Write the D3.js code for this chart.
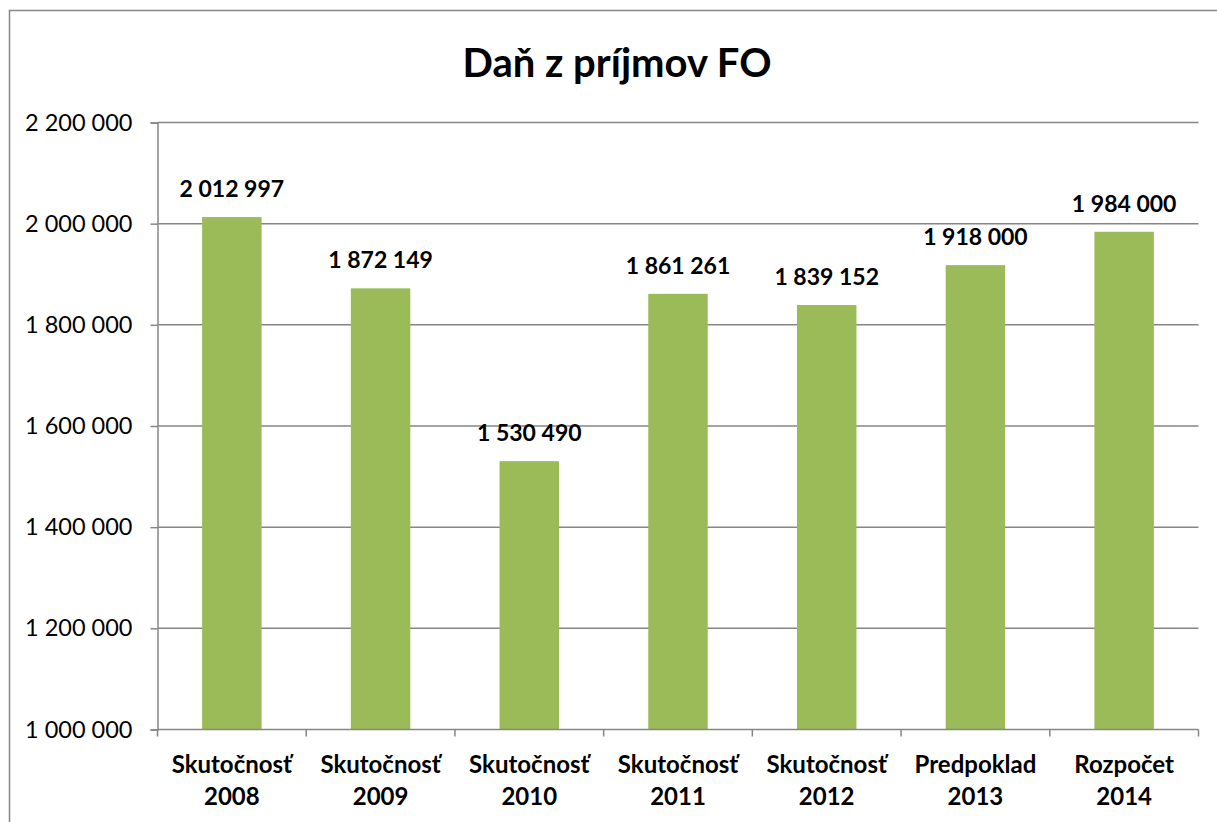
<!DOCTYPE html>
<html>
<head>
<meta charset="utf-8">
<script src="https://cdn.jsdelivr.net/npm/d3@7"></script>
<style>
  html, body { margin: 0; padding: 0; background: #fff; overflow: hidden; }
  svg { display: block; font-family: Lato, 'Open Sans', sans-serif; }
</style>
</head>
<body>
<div id="chart"></div>
<script>
// Daň z príjmov FO - column chart
const categories = [
  ['Skutočnosť', '2008'],
  ['Skutočnosť', '2009'],
  ['Skutočnosť', '2010'],
  ['Skutočnosť', '2011'],
  ['Skutočnosť', '2012'],
  ['Predpoklad', '2013'],
  ['Rozpočet', '2014']
];
const values = [2012997, 1872149, 1530490, 1861261, 1839152, 1918000, 1984000];
const yTicks = [1000000, 1200000, 1400000, 1600000, 1800000, 2000000, 2200000];

const width = 1217;
const height = 822;
const margin = { top: 122.5, right: 18.5, bottom: 92.5, left: 157.5 };

const fmt = n => d3.format(',')(n).replace(/,/g, ' ');

const svg = d3.select('#chart')
  .append('svg')
  .attr('width', width)
  .attr('height', height);

// Chart border (extends past the window on the right and bottom)
svg.append('rect')
  .attr('x', 9.5)
  .attr('y', 10.5)
  .attr('width', 1230)
  .attr('height', 830)
  .attr('fill', '#fff')
  .attr('stroke', '#868686')
  .attr('stroke-width', 1.5);

const x = d3.scaleBand()
  .domain(d3.range(categories.length))
  .range([margin.left, width - margin.right])
  .paddingInner(0.6)
  .paddingOuter(0.3);

const y = d3.scaleLinear()
  .domain([1000000, 2200000])
  .range([height - margin.bottom, margin.top]);

// Gridlines
svg.append('g')
  .selectAll('line')
  .data(yTicks.slice(1))
  .join('line')
  .attr('x1', margin.left)
  .attr('x2', width - margin.right)
  .attr('y1', d => y(d))
  .attr('y2', d => y(d))
  .attr('stroke', '#868686')
  .attr('stroke-width', 1.5);

// Bars
svg.append('g')
  .selectAll('rect')
  .data(values)
  .join('rect')
  .attr('x', (d, i) => x(i))
  .attr('width', x.bandwidth())
  .attr('y', d => y(d))
  .attr('height', d => y(1000000) - y(d))
  .attr('fill', '#9BBB59');

// Y axis
const yAxis = d3.axisLeft(y)
  .tickValues(yTicks)
  .tickSize(7)
  .tickPadding(18)
  .tickFormat(fmt);

const gy = svg.append('g')
  .attr('transform', `translate(${margin.left},0)`)
  .call(yAxis);
gy.select('.domain').attr('stroke', '#868686').attr('stroke-width', 1.5);
gy.selectAll('.tick line').attr('stroke', '#868686').attr('stroke-width', 1.5);
gy.selectAll('.tick text')
  .style('font-size', '23.5px')
  .style('font-family', 'Lato, sans-serif')
  .attr('fill', '#000');

// X axis line with ticks at category boundaries
const plotRight = width - margin.right;
const step = (plotRight - margin.left) / categories.length;
const gx = svg.append('g');
gx.append('line')
  .attr('x1', margin.left)
  .attr('x2', plotRight)
  .attr('y1', y(1000000))
  .attr('y2', y(1000000))
  .attr('stroke', '#868686')
  .attr('stroke-width', 1.5);
gx.selectAll('.xtick')
  .data(d3.range(categories.length + 1))
  .join('line')
  .attr('class', 'xtick')
  .attr('x1', i => margin.left + i * step)
  .attr('x2', i => margin.left + i * step)
  .attr('y1', y(1000000))
  .attr('y2', y(1000000) + 7)
  .attr('stroke', '#868686')
  .attr('stroke-width', 1.5);

// Category labels
const catLabels = svg.append('g')
  .selectAll('text')
  .data(categories)
  .join('text')
  .attr('text-anchor', 'middle')
  .style('font-size', '24px')
  .style('font-weight', 'bold')
  .attr('fill', '#000');
catLabels.append('tspan')
  .attr('x', (d, i) => x(i) + x.bandwidth() / 2)
  .attr('y', 773)
  .text(d => d[0]);
catLabels.append('tspan')
  .attr('x', (d, i) => x(i) + x.bandwidth() / 2)
  .attr('y', 805)
  .text(d => d[1]);

// Data labels
svg.append('g')
  .selectAll('text')
  .data(values)
  .join('text')
  .attr('x', (d, i) => x(i) + x.bandwidth() / 2)
  .attr('y', d => y(d) - 20)
  .attr('text-anchor', 'middle')
  .style('font-size', '23px')
  .style('font-weight', 'bold')
  .attr('fill', '#000')
  .text(fmt);

// Title
svg.append('text')
  .attr('x', 617)
  .attr('y', 77)
  .attr('text-anchor', 'middle')
  .style('font-size', '40px')
  .style('font-weight', 'bold')
  .attr('fill', '#000')
  .text('Daň z príjmov FO');
</script>
</body>
</html>
